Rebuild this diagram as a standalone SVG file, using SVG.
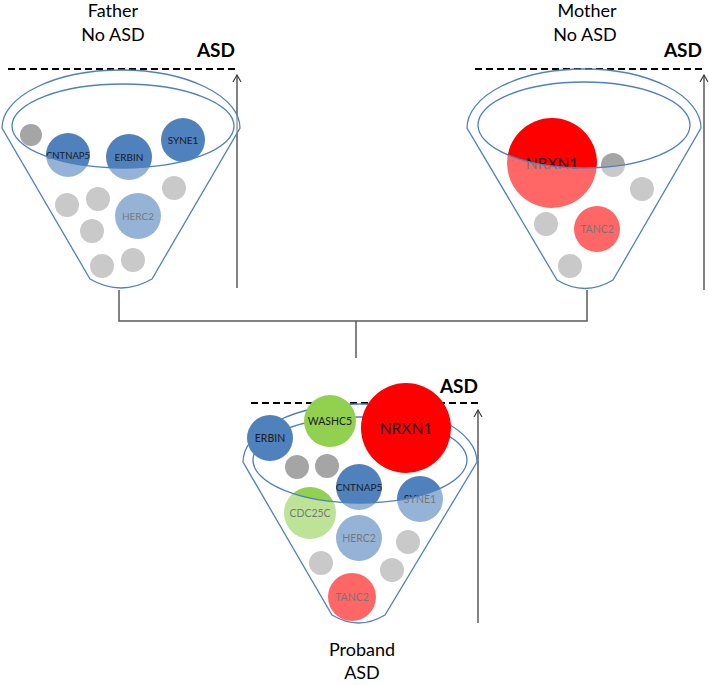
<svg xmlns="http://www.w3.org/2000/svg" width="709" height="685" viewBox="0 0 709 685">
<style>
.fun{fill:none;stroke:#4F81BD;stroke-width:1.3}
.veil{fill:#fff;fill-opacity:0.4;fill-rule:evenodd;stroke:none}
.db{fill:#4F81BD}.gr{fill:#A5A5A5}.rd{fill:#FF0000}.gn{fill:#92D050}
.lbl{font-family:Lato,"Liberation Sans",sans-serif;font-size:10px;fill:#1a1a1a;text-anchor:middle}
.sm{font-size:9.5px}
.md{font-size:10.5px}
.big{font-size:15.5px}
.title{font-family:Lato,"Liberation Sans",sans-serif;font-size:18px;fill:#000;text-anchor:middle}
.asd{font-family:Lato,"Liberation Sans",sans-serif;font-weight:bold;font-size:19px;fill:#000;text-anchor:end}
.dash{stroke:#000;stroke-width:2;stroke-dasharray:7 4}
.scale{stroke:#404040;stroke-width:1.3;marker-end:url(#ah)}
.conn{fill:none;stroke:#595959;stroke-width:1.5}
</style>
<defs>
<marker id="ah" viewBox="0 0 8 10" refX="7" refY="5" markerWidth="8" markerHeight="10" markerUnits="userSpaceOnUse" orient="auto">
<path d="M0,1 L7,5 L0,9" fill="none" stroke="#404040" stroke-width="1.2"/>
</marker>
</defs>

<g id="connectors">
<path class="conn" d="M119,290 V321 H587 V290 M356,321 V358"/>
</g>

<g id="father">
<text class="title" x="113" y="17">Father</text>
<text class="title" x="113" y="41">No ASD</text>
<text class="asd" x="235" y="57">ASD</text>
<line class="dash" x1="8" y1="69" x2="237" y2="69"/>
<line class="scale" x1="237" y1="288" x2="237" y2="75"/>
<circle class="gr" cx="31" cy="135" r="11"/>
<g id="f-cntnap5"><circle class="db" cx="68" cy="155" r="22"/><text class="lbl sm" x="68" y="158.5">CNTNAP5</text></g>
<g id="f-erbin"><circle class="db" cx="129" cy="157" r="23"/><text class="lbl" x="129" y="160.5">ERBIN</text></g>
<g id="f-syne1"><circle class="db" cx="183" cy="140" r="22"/><text class="lbl" x="183" y="143.5">SYNE1</text></g>
<g id="f-herc2"><circle class="db" cx="138" cy="216" r="23"/><text class="lbl" x="138" y="219.5">HERC2</text></g>
<circle class="gr" cx="67" cy="205" r="12"/>
<circle class="gr" cx="98" cy="199" r="12"/>
<circle class="gr" cx="92" cy="231" r="12"/>
<circle class="gr" cx="174" cy="188" r="12"/>
<circle class="gr" cx="102" cy="266" r="12"/>
<circle class="gr" cx="133" cy="260" r="12"/>
<path class="veil" d="M2,128 A119,58 0 0 1 240,128 L152,279 Q121,297 90,279 Z M12,126 A111,42 0 1 0 234,126 A111,42 0 1 0 12,126 Z"/>
<path class="fun" d="M2,128 A119,58 0 0 1 240,128 L152,279 Q121,297 90,279 Z"/>
<ellipse class="fun" cx="123" cy="126" rx="111" ry="42"/>
</g>

<g id="mother">
<text class="title" x="587" y="17">Mother</text>
<text class="title" x="585" y="41">No ASD</text>
<text class="asd" x="702" y="57">ASD</text>
<line class="dash" x1="475" y1="69" x2="705" y2="69"/>
<line class="scale" x1="704" y1="290" x2="704" y2="75"/>
<g id="m-nrxn1"><circle class="rd" cx="552" cy="163" r="45"/><text class="lbl big" x="552" y="169">NRXN1</text></g>
<circle class="gr" cx="613" cy="165" r="12"/>
<circle class="gr" cx="642" cy="189" r="12"/>
<circle class="gr" cx="546" cy="224" r="12"/>
<circle class="gr" cx="570" cy="266" r="12"/>
<g id="m-tanc2"><circle class="rd" cx="597" cy="229" r="23"/><text class="lbl md" x="597" y="232.5">TANC2</text></g>
<path class="veil" d="M467,128 A117,59 0 0 1 701,128 L613,280 Q585,297 557,280 Z M478,125 A106,43 0 1 0 690,125 A106,43 0 1 0 478,125 Z"/>
<path class="fun" d="M467,128 A117,59 0 0 1 701,128 L613,280 Q585,297 557,280 Z"/>
<ellipse class="fun" cx="584" cy="125" rx="106" ry="43"/>
</g>

<g id="proband">
<text class="asd" x="478" y="393">ASD</text>
<line class="dash" x1="251" y1="403" x2="482" y2="403"/>
<line class="scale" x1="478" y1="623" x2="478" y2="410"/>
<circle class="gr" cx="297" cy="467" r="12"/>
<circle class="gr" cx="327" cy="466" r="12"/>
<g id="p-cntnap5"><circle class="db" cx="359" cy="487" r="23"/><text class="lbl" x="359" y="491">CNTNAP5</text></g>
<g id="p-syne1"><circle class="db" cx="420" cy="499" r="23"/><text class="lbl md" x="420" y="503">SYNE1</text></g>
<g id="p-cdc25c"><circle class="gn" cx="310" cy="513" r="26"/><text class="lbl md" x="310" y="517">CDC25C</text></g>
<g id="p-herc2"><circle class="db" cx="359" cy="538" r="23"/><text class="lbl md" x="359" y="542">HERC2</text></g>
<circle class="gr" cx="408" cy="542" r="12"/>
<circle class="gr" cx="321" cy="563" r="12"/>
<circle class="gr" cx="392" cy="570" r="12"/>
<g id="p-tanc2"><circle class="rd" cx="352" cy="597" r="24"/><text class="lbl md" x="352" y="601">TANC2</text></g>
<path class="veil" d="M243,462 A117,58 0 0 1 477,462 L385,615 Q358.5,631 332,615 Z M253,460 A107,43 0 1 0 467,460 A107,43 0 1 0 253,460 Z"/>
<path class="fun" d="M243,462 A117,58 0 0 1 477,462 L385,615 Q358.5,631 332,615 Z"/>
<ellipse class="fun" cx="360" cy="460" rx="107" ry="43"/>
<g id="p-erbin"><circle class="db" cx="270" cy="438" r="23"/><text class="lbl md" x="270" y="442">ERBIN</text></g>
<g id="p-washc5"><circle class="gn" cx="330" cy="421" r="26"/><text class="lbl md" x="330" y="425">WASHC5</text></g>
<g id="p-nrxn1"><circle class="rd" cx="406" cy="428" r="45"/><text class="lbl big" x="406" y="434">NRXN1</text></g>
<text class="title" x="362" y="656">Proband</text>
<text class="title" x="362" y="679">ASD</text>
</g>
</svg>
